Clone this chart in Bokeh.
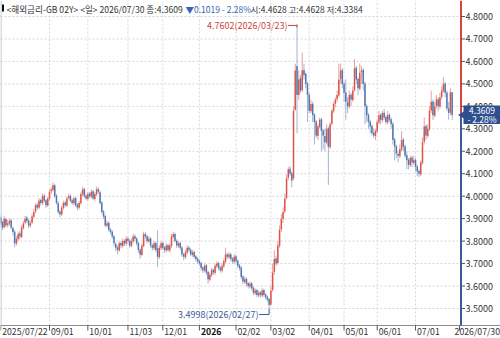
import numpy as np
from bokeh.plotting import figure
from bokeh.models import Range1d, ColumnDataSource
from bokeh.core.properties import value
from bokeh.embed import file_html
from bokeh.resources import INLINE

# ---------------- data (daily candles, trading-day index 0..259) ----------------
opens = [
 3.905,3.885,3.862,3.898,3.872,3.878,3.893,3.858,3.842,3.788,
 3.808,3.835,3.818,3.858,3.882,3.905,3.892,3.868,3.882,3.908,
 3.932,3.962,3.948,3.983,3.968,4.002,3.982,3.958,3.988,4.022,
 4.028,4.048,4.002,3.968,3.932,3.918,3.948,3.972,3.958,3.992,
 4.002,3.982,3.968,3.992,3.962,3.948,3.968,4.008,4.032,4.002,
 3.988,4.012,3.998,4.022,3.988,4.008,4.032,4.018,3.972,3.932,
 3.912,3.868,3.882,3.852,3.842,3.822,3.788,3.772,3.758,3.792,
 3.778,3.802,3.788,3.812,3.802,3.778,3.798,3.822,3.812,3.792,
 3.762,3.738,3.778,3.832,3.822,3.798,3.812,3.782,3.768,3.792,
 3.768,3.728,3.768,3.792,3.772,3.758,3.782,3.758,3.778,3.818,
 3.832,3.802,3.778,3.792,3.772,3.742,3.728,3.748,3.772,3.762,
 3.738,3.752,3.732,3.722,3.712,3.702,3.682,3.668,3.692,3.662,
 3.628,3.648,3.672,3.658,3.688,3.702,3.682,3.668,3.688,3.708,
 3.742,3.728,3.742,3.722,3.708,3.732,3.712,3.692,3.682,3.642,
 3.618,3.632,3.612,3.598,3.612,3.592,3.568,3.582,3.558,3.572,
 3.558,3.582,3.562,3.552,3.542,3.518,3.582,3.662,3.722,3.702,
 3.778,3.852,3.898,3.932,3.992,4.082,4.122,4.102,4.080,4.385,
 4.580,4.450,4.525,4.472,4.562,4.545,4.502,4.452,4.378,4.412,
 4.362,4.332,4.268,4.308,4.342,4.292,4.268,4.238,4.302,4.218,
 4.322,4.378,4.412,4.432,4.448,4.522,4.562,4.502,4.462,4.418,
 4.398,4.452,4.428,4.472,4.572,4.522,4.478,4.552,4.562,4.502,
 4.402,4.362,4.332,4.312,4.282,4.268,4.288,4.328,4.362,4.338,
 4.372,4.352,4.328,4.362,4.342,4.322,4.252,4.222,4.188,4.178,
 4.208,4.252,4.222,4.182,4.162,4.138,4.172,4.148,4.162,4.132,
 4.112,4.098,4.148,4.242,4.312,4.268,4.298,4.382,4.422,4.358,
 4.402,4.432,4.398,4.442,4.468,4.502,4.462,4.392,4.372,4.4628,
]
highs = [
 3.915,3.892,3.912,3.905,3.895,3.902,3.898,3.866,3.850,3.822,
 3.842,3.845,3.872,3.890,3.912,3.912,3.898,3.893,3.921,3.942,
 3.968,3.972,3.992,3.990,4.012,4.010,3.988,3.998,4.030,4.040,
 4.062,4.055,4.010,3.978,3.940,3.958,3.980,3.980,3.998,4.012,
 4.008,3.990,3.998,3.998,3.970,3.978,4.020,4.042,4.038,4.008,
 4.018,4.018,4.030,4.028,4.018,4.042,4.040,4.025,3.978,3.938,
 3.918,3.892,3.888,3.858,3.848,3.828,3.795,3.780,3.800,3.798,
 3.812,3.808,3.822,3.818,3.808,3.812,3.832,3.830,3.818,3.798,
 3.768,3.790,3.842,3.840,3.828,3.822,3.818,3.788,3.800,3.798,
 3.848,3.782,3.800,3.798,3.778,3.790,3.788,3.790,3.832,3.842,
 3.838,3.808,3.800,3.798,3.778,3.748,3.762,3.782,3.778,3.768,
 3.760,3.758,3.738,3.728,3.718,3.708,3.688,3.700,3.698,3.668,
 3.660,3.680,3.678,3.700,3.710,3.708,3.688,3.700,3.722,3.770,
 3.748,3.752,3.748,3.728,3.742,3.738,3.718,3.698,3.688,3.648,
 3.642,3.638,3.618,3.620,3.618,3.598,3.590,3.588,3.580,3.578,
 3.590,3.588,3.568,3.558,3.548,3.600,3.700,3.760,3.735,3.800,
 3.870,3.920,3.950,4.010,4.095,4.130,4.135,4.110,4.400,4.590,
 4.7602,4.560,4.540,4.640,4.590,4.550,4.510,4.460,4.430,4.420,
 4.370,4.340,4.320,4.350,4.350,4.300,4.300,4.320,4.310,4.330,
 4.390,4.420,4.440,4.470,4.590,4.590,4.570,4.510,4.520,4.440,
 4.470,4.460,4.490,4.610,4.580,4.530,4.590,4.580,4.570,4.510,
 4.410,4.370,4.340,4.320,4.300,4.300,4.340,4.380,4.370,4.380,
 4.390,4.360,4.380,4.370,4.350,4.330,4.260,4.230,4.200,4.230,
 4.290,4.260,4.230,4.200,4.170,4.180,4.180,4.180,4.170,4.140,
 4.120,4.160,4.260,4.350,4.320,4.320,4.400,4.470,4.430,4.420,
 4.450,4.440,4.460,4.490,4.530,4.510,4.470,4.420,4.480,4.4628,
]
lows = [
 3.870,3.848,3.855,3.862,3.860,3.868,3.852,3.825,3.772,3.780,
 3.800,3.808,3.812,3.850,3.874,3.880,3.858,3.860,3.875,3.900,
 3.925,3.940,3.942,3.958,3.962,3.972,3.948,3.952,3.980,4.008,
 4.020,3.992,3.962,3.920,3.905,3.912,3.940,3.950,3.952,3.985,
 3.972,3.962,3.960,3.952,3.938,3.940,3.962,4.000,3.992,3.982,
 3.980,3.992,3.990,3.982,3.980,4.000,4.010,3.962,3.922,3.898,
 3.862,3.860,3.842,3.830,3.810,3.775,3.755,3.742,3.752,3.768,
 3.770,3.778,3.780,3.790,3.770,3.772,3.790,3.800,3.780,3.748,
 3.722,3.732,3.772,3.810,3.790,3.792,3.770,3.758,3.760,3.752,
 3.685,3.720,3.760,3.760,3.748,3.750,3.752,3.750,3.770,3.810,
 3.792,3.770,3.770,3.760,3.730,3.715,3.720,3.740,3.750,3.732,
 3.730,3.722,3.708,3.700,3.690,3.668,3.658,3.660,3.648,3.610,
 3.620,3.640,3.650,3.650,3.680,3.670,3.660,3.660,3.680,3.700,
 3.720,3.720,3.710,3.700,3.700,3.700,3.680,3.668,3.630,3.608,
 3.610,3.598,3.588,3.590,3.580,3.560,3.560,3.550,3.550,3.548,
 3.550,3.552,3.540,3.530,3.4998,3.512,3.575,3.650,3.690,3.695,
 3.770,3.840,3.880,3.925,3.985,4.070,4.090,4.040,4.070,4.380,
 4.280,4.430,4.460,4.465,4.520,4.480,4.330,4.370,4.370,4.330,
 4.230,4.260,4.250,4.300,4.200,4.210,4.200,4.230,4.050,4.210,
 4.315,4.370,4.395,4.420,4.440,4.500,4.480,4.420,4.340,4.370,
 4.390,4.400,4.420,4.465,4.500,4.450,4.470,4.500,4.470,4.320,
 4.330,4.300,4.280,4.270,4.260,4.250,4.280,4.320,4.320,4.330,
 4.340,4.320,4.320,4.330,4.300,4.230,4.160,4.170,4.150,4.170,
 4.200,4.200,4.170,4.120,4.120,4.130,4.130,4.140,4.110,4.090,
 4.085,4.090,4.140,4.230,4.250,4.260,4.290,4.370,4.340,4.350,
 4.390,4.380,4.390,4.430,4.460,4.440,4.380,4.340,4.360,4.3384,
]
closes = [
 3.880,3.860,3.900,3.870,3.880,3.890,3.860,3.840,3.790,3.810,
 3.830,3.820,3.860,3.880,3.900,3.890,3.870,3.880,3.910,3.930,
 3.960,3.950,3.980,3.970,4.000,3.980,3.960,3.990,4.020,4.030,
 4.050,4.000,3.970,3.930,3.920,3.950,3.970,3.960,3.990,4.000,
 3.980,3.970,3.990,3.960,3.950,3.970,4.010,4.030,4.000,3.990,
 4.010,4.000,4.020,3.990,4.010,4.030,4.020,3.970,3.930,3.910,
 3.870,3.880,3.850,3.840,3.820,3.790,3.770,3.760,3.790,3.780,
 3.800,3.790,3.810,3.800,3.780,3.800,3.820,3.810,3.790,3.760,
 3.740,3.780,3.830,3.820,3.800,3.810,3.780,3.770,3.790,3.760,
 3.730,3.770,3.790,3.770,3.760,3.780,3.760,3.780,3.820,3.830,
 3.800,3.780,3.790,3.770,3.740,3.730,3.750,3.770,3.760,3.740,
 3.750,3.730,3.720,3.710,3.700,3.680,3.670,3.690,3.660,3.630,
 3.650,3.670,3.660,3.690,3.700,3.680,3.670,3.690,3.710,3.740,
 3.730,3.740,3.720,3.710,3.730,3.710,3.690,3.680,3.640,3.620,
 3.630,3.610,3.600,3.610,3.590,3.570,3.580,3.560,3.570,3.560,
 3.580,3.560,3.550,3.540,3.515,3.580,3.660,3.720,3.700,3.780,
 3.850,3.900,3.930,3.990,4.080,4.120,4.100,4.070,4.380,4.560,
 4.450,4.520,4.470,4.560,4.540,4.500,4.450,4.380,4.410,4.360,
 4.330,4.270,4.310,4.340,4.290,4.270,4.240,4.300,4.220,4.320,
 4.380,4.410,4.430,4.450,4.520,4.560,4.500,4.460,4.420,4.400,
 4.450,4.430,4.470,4.570,4.520,4.480,4.550,4.560,4.500,4.400,
 4.360,4.330,4.310,4.280,4.270,4.290,4.330,4.360,4.340,4.370,
 4.350,4.330,4.360,4.340,4.320,4.250,4.220,4.190,4.180,4.210,
 4.250,4.220,4.180,4.160,4.140,4.170,4.150,4.160,4.130,4.110,
 4.100,4.150,4.240,4.310,4.270,4.300,4.380,4.420,4.360,4.400,
 4.430,4.400,4.440,4.470,4.500,4.460,4.390,4.370,4.4628,4.3609,
]
idx = list(range(len(closes)))

# x-axis ticks (trading-day index of each labelled date)
tick_idx = [0, 28, 50, 73, 93, 114, 135, 155, 177, 197, 216, 238]
tick_labels = ["2025/07/22", "09/01", "10/01", "11/03", "12/01", "2026",
               "02/02", "03/02", "04/01", "05/01", "06/01", "07/01"]
last_date_label = "2026/07/30"
y_ticks = [3.5, 3.6, 3.7, 3.8, 3.9, 4.0, 4.1, 4.2, 4.3, 4.4, 4.5, 4.6, 4.7, 4.8]
y_tick_labels = ["%.4f" % v for v in y_ticks]

peak_idx, peak_val, peak_text = 170, 4.7602, "4.7602(2026/03/23)"
low_idx, low_val, low_text = 154, 3.4998, "3.4998(2026/02/27)"
last_close = 4.3609
tag_lines = ["4.3609", "- 2.28%"]
hdr_main = "<해외금리-GB 02Y> <일> 2026/07/30 종:4.3609"
hdr_change = "▼0.1019 - 2.28%"
hdr_ohl = "시:4.4628 고:4.4628 저:4.3384"

# ---------------- layout helpers ----------------
W, H = 500, 338
PX_I = 1.743      # pixels per trading day
X0 = 0.2
PPU = 224.6       # pixels per 1.0 of yield
FONT = "Noto Sans CJK KR"
RED, BLUE = "#dc5448", "#5276b0"
RED_W, BLUE_W = "#e9a29b", "#a3b5d4"
TAG = "#2d4f8e"


def px2i(px):
    return (px - X0) / PX_I


def px2v(py):
    return 4.8 - (py - 16) / PPU


x_start, x_end = px2i(0), px2i(W)
y_start, y_end = px2v(H), px2v(0)
axis_x = px2i(460.5)
axis_y = px2v(325)

p = figure(width=W, height=H, output_backend="svg", toolbar_location=None,
           x_range=Range1d(x_start, x_end), y_range=Range1d(y_start, y_end),
           x_axis_location=None, y_axis_location=None,
           min_border_left=0, min_border_right=0, min_border_top=0, min_border_bottom=0)
p.outline_line_color = None
p.background_fill_color = "white"
p.border_fill_color = "white"
p.grid.visible = False

# grid lines
p.segment(x0=[x_start] * len(y_ticks), x1=[axis_x] * len(y_ticks), y0=y_ticks, y1=y_ticks,
          line_color="#d6d6d6", line_width=1, line_dash="2 2")
p.segment(x0=tick_idx[1:], x1=tick_idx[1:], y0=[axis_y] * (len(tick_idx) - 1),
          y1=[y_end] * (len(tick_idx) - 1), line_color="#d6d6d6", line_width=1, line_dash="2 2")
p.segment(x0=[px2i(0.5)], x1=[px2i(0.5)], y0=[axis_y], y1=[y_end], line_color="#b4bdc7", line_width=1)

# candles
o = np.array(opens); c = np.array(closes); h = np.array(highs); lo = np.array(lows)
ix = np.array(idx)
up = c >= o
for mask, body, wick in ((up, RED, RED_W), (~up, BLUE, BLUE_W)):
    src = ColumnDataSource(dict(x=ix[mask], o=o[mask], c=c[mask], h=h[mask], l=lo[mask]))
    p.segment(x0="x", x1="x", y0="l", y1="h", source=src, line_color=wick, line_width=1)
    p.vbar(x="x", width=0.85, top="o", bottom="c", source=src, fill_color=body, line_color=None)

# bottom date axis (line, ticks, labels)
p.segment(x0=[x_start], x1=[x_end], y0=[axis_y], y1=[axis_y], line_color="#8c8c8c", line_width=1)
tick_x = tick_idx + [px2i(459)]
p.segment(x0=tick_x, x1=tick_x, y0=[axis_y] * len(tick_x), y1=[px2v(330)] * len(tick_x),
          line_color="#555555", line_width=1)
reg = [i for i, t in enumerate(tick_labels) if t != "2026"]
bold = [i for i, t in enumerate(tick_labels) if t == "2026"]
p.text(x=[tick_idx[i] for i in reg], y=[px2v(331)] * len(reg), text=[tick_labels[i] for i in reg],
       x_offset=1.5, text_align="left", text_baseline="middle", text_color="#333333",
       text_font=value(FONT), text_font_size="8.7px")
p.text(x=[tick_idx[i] for i in bold], y=[px2v(331)] * len(bold), text=[tick_labels[i] for i in bold],
       x_offset=1.5, text_align="left", text_baseline="middle", text_color="#111111",
       text_font=value(FONT), text_font_size="8.7px", text_font_style="bold")
p.text(x=[px2i(499.5)], y=[px2v(331)], text=[last_date_label], text_align="right",
       text_baseline="middle", text_color="#333333", text_font=value(FONT), text_font_size="8.7px")

# right value axis: red above last close, blue below; ticks and labels
p.segment(x0=[axis_x], x1=[axis_x], y0=[y_end], y1=[last_close], line_color="#d9443a", line_width=2)
p.segment(x0=[axis_x], x1=[axis_x], y0=[last_close], y1=[axis_y], line_color="#3a5ba0", line_width=2)
p.segment(x0=[axis_x] * len(y_ticks), x1=[px2i(464.5)] * len(y_ticks), y0=y_ticks, y1=y_ticks,
          line_color="#555555", line_width=1)
p.text(x=[px2i(465)] * len(y_ticks), y=y_ticks, text=y_tick_labels, text_align="left",
       text_baseline="middle", text_color="#333333", text_font=value(FONT), text_font_size="9px")

# peak / low annotations
p.text(x=[peak_idx], y=[peak_val], text=[peak_text], x_offset=-9.5, text_align="right",
       text_baseline="middle", text_color="#c9483e", text_font=value(FONT), text_font_size="9px")
p.segment(x0=[peak_idx - 9 / PX_I], x1=[peak_idx], y0=[peak_val], y1=[peak_val],
          line_color="#c9483e", line_width=1)
p.segment(x0=[peak_idx], x1=[peak_idx], y0=[peak_val + 1 / PPU], y1=[peak_val - 2 / PPU],
          line_color="#c9483e", line_width=1)
low_text_v = low_val - 6 / PPU
p.text(x=[low_idx], y=[low_text_v], text=[low_text], x_offset=-10.5, text_align="right",
       text_baseline="middle", text_color="#3b5c9c", text_font=value(FONT), text_font_size="9px")
p.segment(x0=[low_idx - 10 / PX_I], x1=[low_idx], y0=[low_text_v], y1=[low_text_v],
          line_color="#3b5c9c", line_width=1)
p.segment(x0=[low_idx], x1=[low_idx], y0=[low_text_v], y1=[low_val], line_color="#3b5c9c", line_width=1)

# current price tag
p.quad(left=[px2i(463)], right=[px2i(500)], top=[px2v(105)], bottom=[px2v(123.5)],
       fill_color=TAG, line_color=None)
p.scatter(x=[px2i(461.5)], y=[last_close], marker="triangle", angle=np.pi / 2, size=7,
          fill_color=TAG, line_color=None)
p.text(x=[px2i(481.5)] * 2, y=[px2v(109.5), px2v(118.8)], text=tag_lines, text_align="center",
       text_baseline="middle", text_color="white", text_font=value(FONT), text_font_size="8.5px")

# header
p.quad(left=[px2i(1.5)], right=[px2i(3.5)], top=[px2v(4)], bottom=[px2v(11)],
       fill_color="#111111", line_color=None)
p.text(x=[px2i(6)], y=[px2v(8.5)], text=[hdr_main], text_align="left", text_baseline="middle",
       text_color="#333333", text_font=value(FONT), text_font_size="8.6px")
p.text(x=[px2i(185), px2i(250)], y=[px2v(8.5)] * 2, text=[hdr_change, hdr_ohl],
       text_align="left", text_baseline="middle", text_color=["#3563b5", "#333333"],
       text_font=value(FONT), text_font_size="8.5px")

open("out.html", "w").write(file_html(p, INLINE))
